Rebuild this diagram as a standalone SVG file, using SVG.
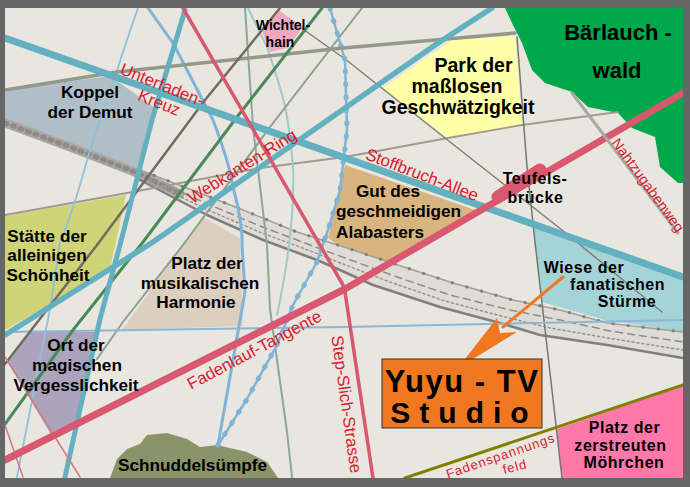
<svg xmlns="http://www.w3.org/2000/svg" width="690" height="487" viewBox="0 0 690 487">
<defs>
<clipPath id="map"><rect x="5" y="8" width="678" height="470"/></clipPath>
<path id="rt" d="M140,170 L210,197 L243,210 L297,232 L347,248 L407,268 L453,283 L513,300 L560,310 L607,323 L683,332"/>
<path id="rb" d="M140,180 L207,215 L263,240 L317,260 L340,270 L373,285 L440,307 L500,323 L540,335 L607,345 L683,358"/>
<path id="rm1" d="M150,178 L210,205 L260,226 L310,245 L345,258 L400,278 L450,295 L510,310 L560,320 L610,331 L683,342"/>
<path id="rm2" d="M150,182 L208,210 L262,233 L313,252 L343,264 L390,282 L445,301 L505,317 L550,328 L608,338 L683,350"/>
<path id="dw" d="M330,8 L345,60 L347,130 L340,190 L328,230 L317,262 L293,305 L277,345 L247,399 L218,445"/>
</defs>
<style>
.l{font:bold 17.2px "Liberation Sans",Arial,sans-serif;fill:#000;text-anchor:middle}
.t{font:bold 16px "Liberation Sans",Arial,sans-serif;letter-spacing:.55px;fill:#000;text-anchor:middle}
.r{font:16.8px "Liberation Sans",Arial,sans-serif;fill:#d8202f;text-anchor:middle}
.w{fill:none;stroke-linecap:round;stroke-linejoin:round}
</style>
<rect width="690" height="487" fill="#666"/>
<rect x="5" y="8" width="678" height="470" fill="#e8e6de"/>
<g id="areas">
<polygon id="koppel" points="5,90 110,76 155,108 137,168 5,122" fill="#b0bec8"/>
<polygon id="staette" points="5,216 126,195 110,270 5,330" fill="#d0d478"/>
<polygon id="ort" points="30,332 96,332 78,420 50,433 8,362" fill="#aca4bc"/>
<polygon id="harmonie" points="203,217 240,238 243,326 122,330" fill="#dccfc0"/>
<polygon id="gut" points="345,165 475,210 385,262 345,250 328,238" fill="#d8b47e"/>
<polygon id="park" points="452,40 515,36 522,125 448,138 383,88" fill="#ffffa8"/>
<polygon id="wiese" points="533,225 683,278 683,332 605,320 542,302" fill="#a4d4d8"/>
<polygon id="pink" points="557,429 683,385 683,478 562,478" fill="#ff78a8"/>
<polygon id="wichtel" points="278,10 303,27 287,48 270,52 262,30" fill="#f0a8c0"/>
<path id="baerlauch" d="M505,8 L512,23 522,43 532,70 545,83 572,92 588,107 618,113 632,128 655,137 660,167 678,183 683,183 683,8Z" fill="#00a84c"/>
<path id="sumpf" d="M110,478 L117,459 127,449 140,444 147,435 167,433 187,439 200,447 217,445 247,452 267,462 278,478Z" fill="#8a9468"/>
</g>
<g id="connectors" class="w" clip-path="url(#map)">
<path d="M140,170 L210,197 L243,210 L297,232 L347,248 L407,268 L453,283 L513,300 L560,310 L607,323 L683,332 L683,358 L607,345 L540,335 L500,323 L440,307 L373,285 L340,270 L317,260 L263,240 L207,215 L140,180Z" fill="#dedcd4" stroke="none"/>
<path d="M5,123 L70,147 L140,174 L180,194" stroke="#aaa6a2" stroke-width="9"/>
<path d="M5,123 L70,147 L140,174 L180,194" stroke="#8f8a86" stroke-width="5" stroke-dasharray="2 6"/>
<use href="#rt" stroke="#a0a09c" stroke-width="1.5"/>
<use href="#rt" stroke="#808080" stroke-width="3.2" stroke-dasharray="0.1 15"/>
<use href="#rb" stroke="#7f7f7c" stroke-width="2.5"/>
<use href="#rm1" stroke="#8d8d88" stroke-width="1.5" stroke-dasharray="7 5"/>
<use href="#rm2" stroke="#93938e" stroke-width="1.5" stroke-dasharray="2 3"/>
<path d="M5,215 L127,193 L260,168 L345,157 L448,138 L522,125 L618,112" stroke="#a09a90" stroke-width="1.8"/>
<path d="M245,8 L253,127 L267,245 L270,309 L287,432 L292,477" stroke="#8fa69a" stroke-width="2"/>
<path d="M248,8 L267,47 Q285,100 287,117 Q295,170 293,187 Q293,240 277,315" stroke="#a0c8c8" stroke-width="2"/>
<path d="M362,8 L270,127 L183,245 L123,322 L97,359" stroke="#8aa090" stroke-width="2"/>
<path d="M300,27 L345,59 L445,138 L562,230 L662,312" stroke="#808078" stroke-width="1.5"/>
<path d="M517,37 L527,167 L535,242 L545,329 L562,478" stroke="#707870" stroke-width="1.5"/>
<path d="M138,8 Q125,45 115,77 Q95,135 88,157 Q72,215 60,242 L50,309 L17,477" stroke="#90c0dc" stroke-width="1.8"/>
<path d="M148,8 L173,43 L213,120 Q230,165 233,187 Q243,225 242,245 L245,292 L218,445" stroke="#7fb4d8" stroke-width="3"/>
<use href="#dw" stroke="#7fb4d8" stroke-width="2.5"/>
<use href="#dw" stroke="#7fb4d8" stroke-width="5" stroke-dasharray="1 12"/>
<path d="M5,332 L345,327 L683,320" stroke="#8cb8d8" stroke-width="2"/>
<path d="M5,90 L117,72 L343,48 L515,33" stroke="#94988a" stroke-width="3.5"/>
<path d="M280,8 L205,100 L97,245 L5,364" stroke="#706c64" stroke-width="2.5"/>
<path d="M322,8 L237,117 L143,242 L73,330 L5,424" stroke="#4a8a58" stroke-width="3"/>
<path d="M185,10 L152,120 L120,245 L100,319 L65,477" stroke="#62b0c0" stroke-width="5"/>
<path d="M5,357 L80,477 M5,425 L23,477" stroke="#d07888" stroke-width="1.5"/>
<path d="M5,335 L153,242 L345,108 L438,43 L492,8" stroke="#62b0c0" stroke-width="5.5"/>
<path d="M5,38 L683,277" stroke="#62b0c0" stroke-width="7"/>
<path d="M183,8 L343,285 L345,292 L373,478" stroke="#d85870" stroke-width="3.5"/>
<path d="M5,460 L345,289 L683,93" stroke="#d85870" stroke-width="7"/>
<path d="M498,197 L540,170" stroke="#d85870" stroke-width="13"/>
<path d="M572,93 L678,233" stroke="#a8a8a4" stroke-width="3"/>
<path d="M405,478 L683,385" stroke="#808000" stroke-width="3"/>
<path d="M563,277 L503,327" stroke="#f07820" stroke-width="3"/>
<polygon points="465,359 497,318 500,333 517,332 473,359" fill="#f07820" stroke="none"/>
</g>
<g id="studio">
<rect x="382" y="359" width="160" height="69" fill="#f07820" stroke="#333" stroke-width="1"/>
<text x="462" y="392" style="font:bold 31px 'Liberation Sans',Arial,sans-serif;letter-spacing:1.5px;text-anchor:middle">Yuyu - TV</text>
<text x="464" y="423" style="font:bold 30px 'Liberation Sans',Arial,sans-serif;letter-spacing:9px;text-anchor:middle">Studio</text>
</g>
<g id="labels">
<text class="l" x="90" y="98">Koppel</text><text class="l" x="90" y="118">der Demut</text>
<text class="l" x="47" y="242">Stätte der</text><text class="l" x="47" y="261">alleinigen</text><text class="l" x="48" y="281">Schönheit</text>
<text class="l" x="207" y="269">Platz der</text><text class="l" x="200" y="289">musikalischen</text><text class="l" x="196" y="308">Harmonie</text>
<text class="l" x="76" y="351">Ort der</text><text class="l" x="77" y="371">magischen</text><text class="l" x="76" y="391">Vergesslichkeit</text>
<text class="l" x="192.500" y="471">Schnuddelsümpfe</text>
<text class="l" x="283" y="30" style="font-size:14px">Wichtel-</text><text class="l" x="280" y="47" style="font-size:14px">hain</text>
<text class="l" x="473.500" y="72" style="font-size:19.500px">Park der</text><text class="l" x="457" y="93" style="font-size:19.500px">maßlosen</text><text class="l" x="458" y="114" style="font-size:19.500px">Geschwätzigkeit</text>
<text class="l" x="388" y="197">Gut des</text><text class="l" x="398.500" y="217">geschmeidigen</text><text class="l" x="380" y="238">Alabasters</text>
<text class="t" x="535" y="184">Teufels-</text><text class="t" x="535.500" y="203">brücke</text>
<text class="t" x="584" y="273">Wiese der</text><text class="t" x="617.500" y="290">fanatischen</text><text class="t" x="627" y="307">Stürme</text>
<text class="t" x="624.500" y="433">Platz der</text><text class="t" x="620.500" y="451">zerstreuten</text><text class="t" x="624" y="468">Möhrchen</text>
<text x="618" y="40" style="font:bold 22px 'Liberation Sans',Arial,sans-serif;text-anchor:middle">Bärlauch -</text>
<text x="617" y="78" style="font:bold 22px 'Liberation Sans',Arial,sans-serif;text-anchor:middle">wald</text>
<text class="r" transform="translate(160,90) rotate(22)">Unterfaden-</text>
<text class="r" transform="translate(157,108) rotate(22)">Kreuz</text>
<text class="r" transform="translate(245,171) rotate(-32)">Webkanten-Ring</text>
<text class="r" transform="translate(420,180) rotate(21)">Stoffbruch-Allee</text>
<text class="r" transform="translate(257,355) rotate(-28)">Fadenlauf-Tangente</text>
<text class="r" transform="translate(341,405) rotate(82)">Step-Slich-Strasse</text>
<text class="r" transform="translate(644,188) rotate(54)" style="font-size:14.400px">Nahtzugabenweg</text>
<text class="r" transform="translate(502,460) rotate(-19)" style="font-size:13px;letter-spacing:1px">Fadenspannungs</text>
<text class="r" transform="translate(516,471) rotate(-14)" style="font-size:13px;letter-spacing:1px">feld</text>
</g>
</svg>
